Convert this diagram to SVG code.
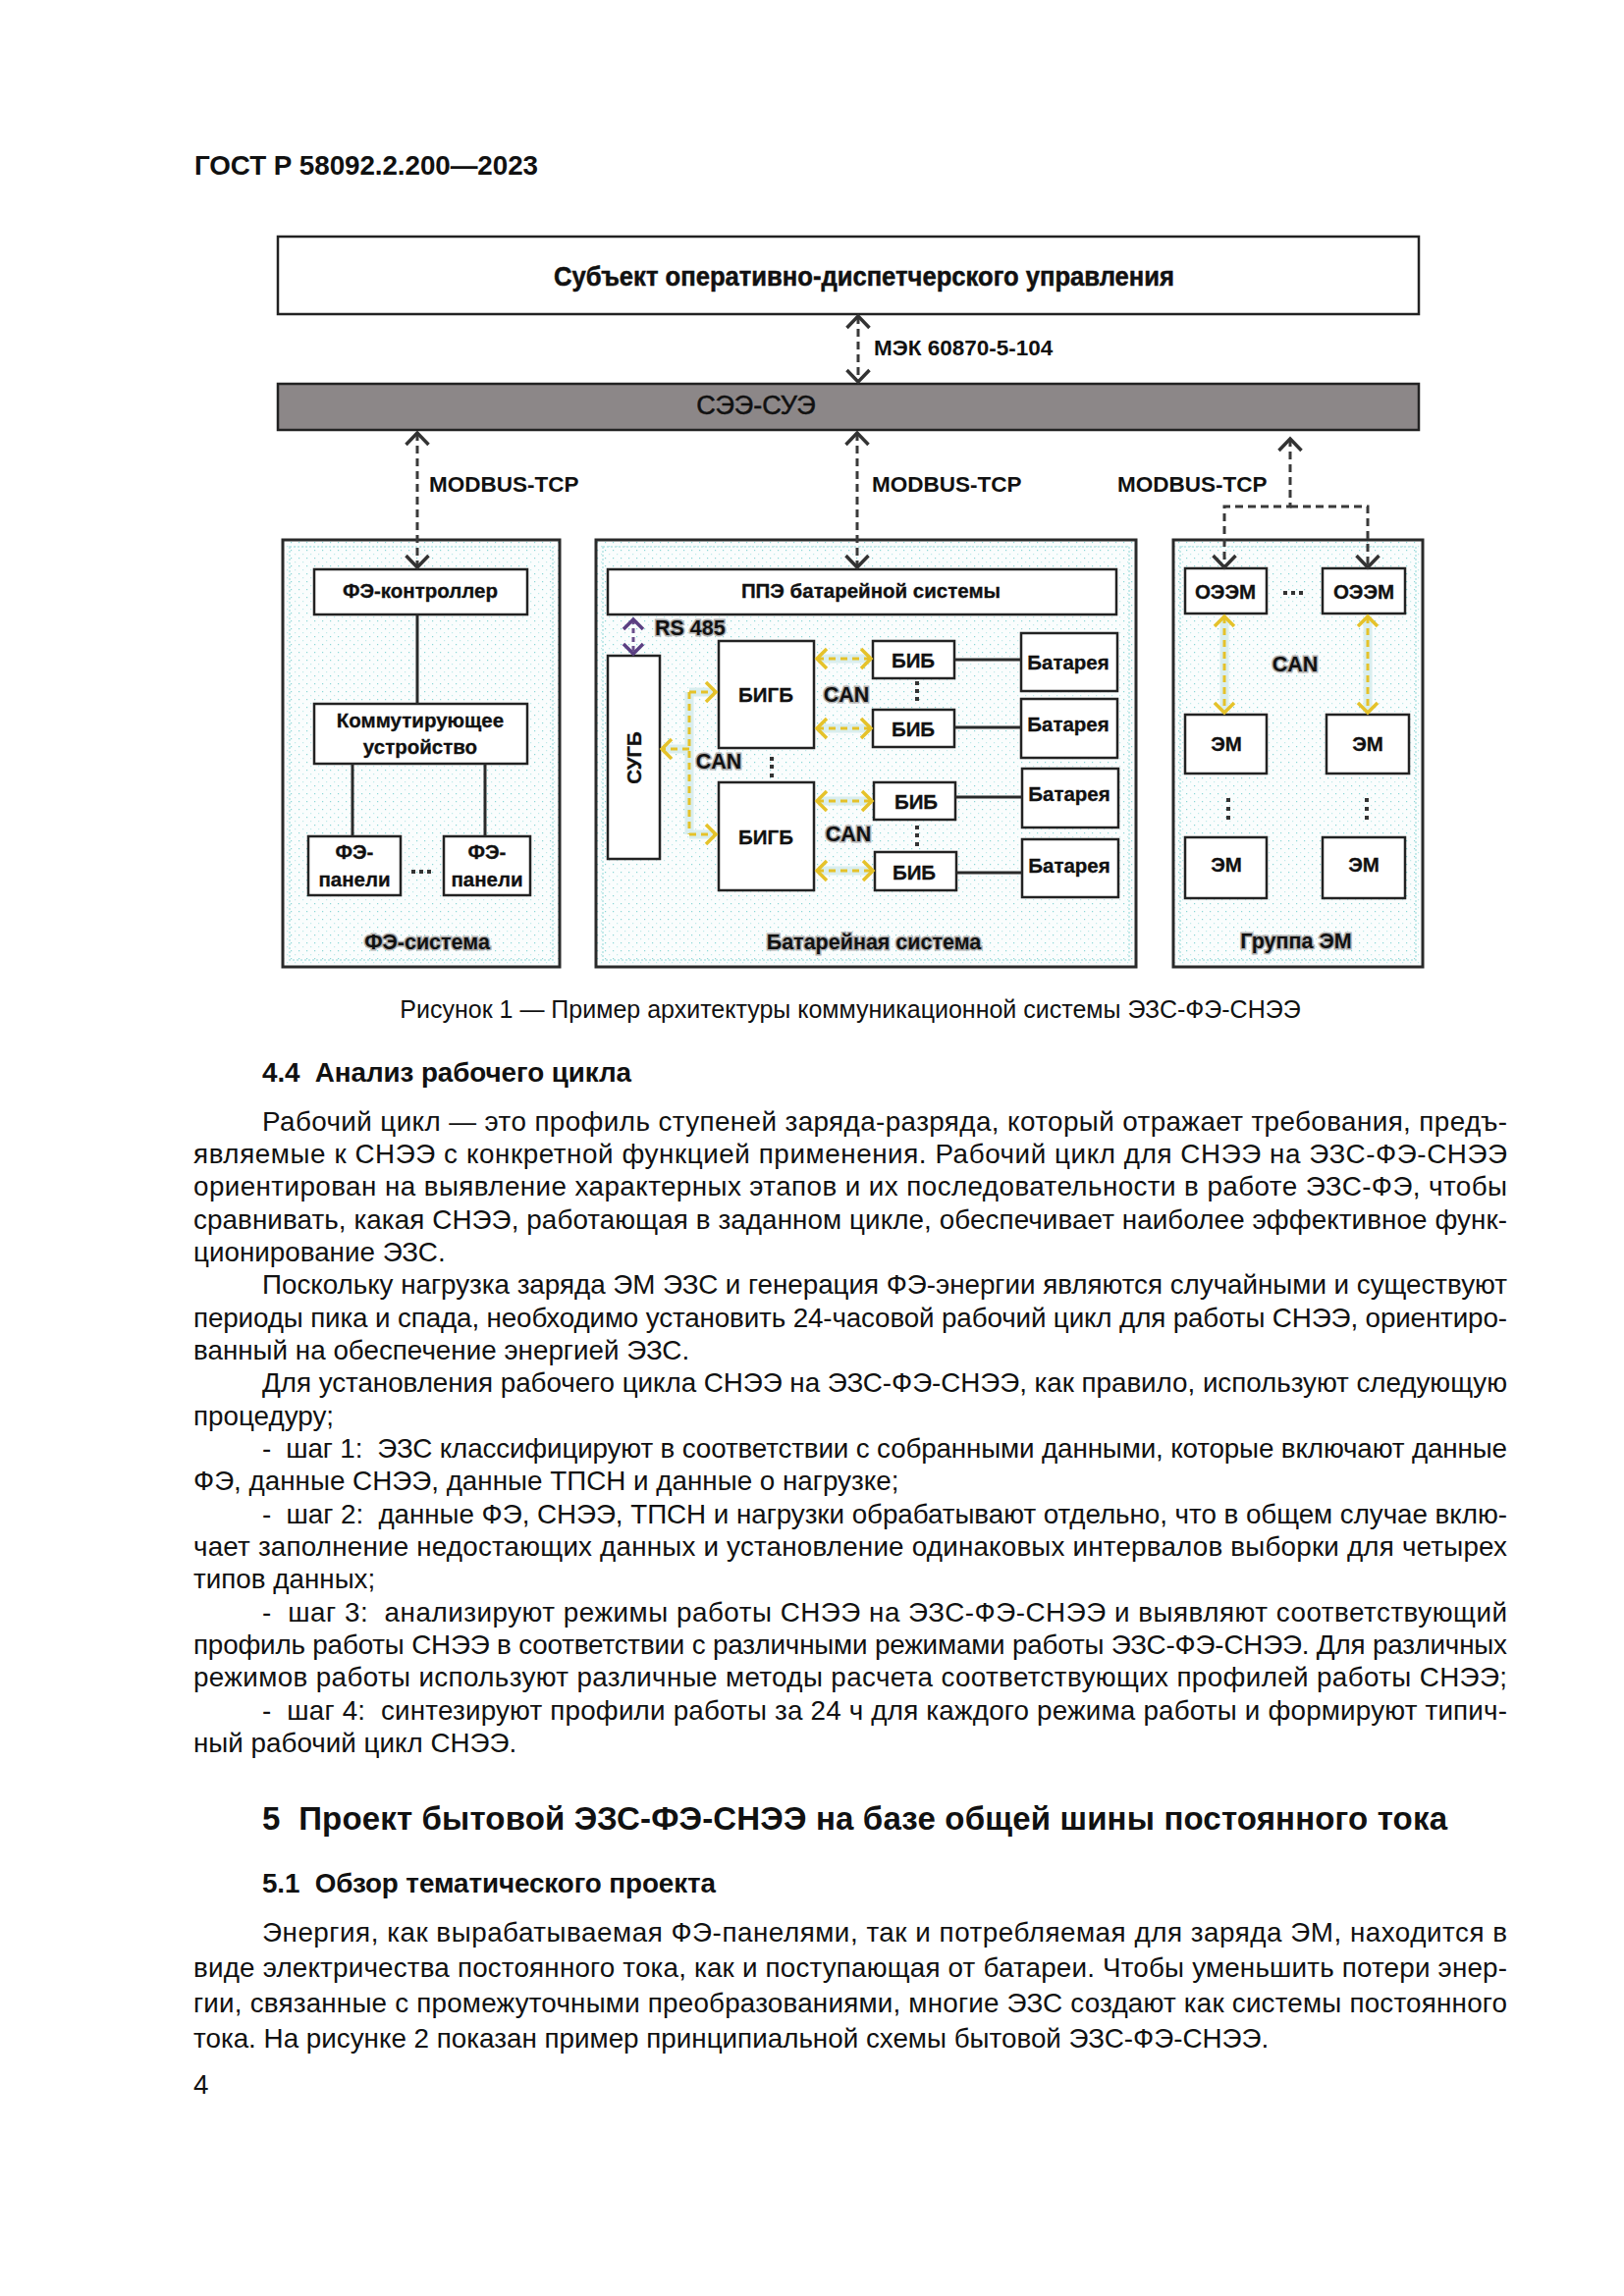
<svg xmlns="http://www.w3.org/2000/svg" width="1654" height="2339" viewBox="0 0 1654 2339">
<defs>
<style>
.page{fill:#fff}
.box{fill:#fff;stroke:#222;stroke-width:2.5}
.grp{fill:url(#halftone);stroke:#2a2a2a;stroke-width:3}
.inner{fill:none;stroke:#b4e3e3;stroke-width:1.5;stroke-dasharray:2 2}
.lbl{font-family:"Liberation Sans",Arial,sans-serif;font-weight:bold;font-size:20.5px;fill:#111;stroke:#111;stroke-width:0.3;text-anchor:middle}
.big{font-family:"Liberation Sans",Arial,sans-serif;font-size:27px;fill:#111;text-anchor:middle;stroke:#111;stroke-width:0.5}
.proto{font-family:"Liberation Sans",Arial,sans-serif;font-weight:bold;font-size:22.5px;fill:#111}
.halo{font-family:"Liberation Sans",Arial,sans-serif;font-weight:bold;font-size:21.5px;fill:#111;stroke:#b0b0b0;stroke-width:3;paint-order:stroke}
.mid{text-anchor:middle}
.dash{fill:none;stroke:#3a3a3a;stroke-width:3;stroke-dasharray:8 5}
.can{fill:none;stroke:#e5c22a;stroke-width:3;stroke-dasharray:7 5}
.canhalo{fill:none;stroke:#d9eeee;stroke-width:9}
.rs{fill:none;stroke:#6a4f8c;stroke-width:3;stroke-dasharray:5 4}
.wire{fill:none;stroke:#2a2a2a;stroke-width:3}
.dot{fill:#333}
.body{font-family:"Liberation Sans",Arial,sans-serif;font-size:27.8px;fill:#111}
.cap{font-family:"Liberation Sans",Arial,sans-serif;font-size:25px;fill:#111;text-anchor:middle}
.hd{font-family:"Liberation Sans",Arial,sans-serif;font-weight:bold;font-size:27.8px;fill:#111}
.h1{font-family:"Liberation Sans",Arial,sans-serif;font-weight:bold;font-size:33px;fill:#111}
</style>
<pattern id="halftone" width="8" height="8" patternUnits="userSpaceOnUse">
<rect width="8" height="8" fill="#fafdfd"/>
<rect x="0" y="0" width="1.2" height="1.2" fill="#8ad6d6"/>
<rect x="4" y="4" width="1.2" height="1.2" fill="#bde9e9"/>
</pattern>
<marker id="chevD" viewBox="-16 -16 20 32" refX="0" refY="0" markerWidth="20" markerHeight="32" markerUnits="userSpaceOnUse" orient="auto-start-reverse">
<path d="M-12,-11.5 L0,0 L-12,11.5" fill="none" stroke="#333" stroke-width="3.5"/>
</marker>
<marker id="chevY" viewBox="-16 -16 20 32" refX="0" refY="0" markerWidth="20" markerHeight="32" markerUnits="userSpaceOnUse" orient="auto-start-reverse">
<path d="M-10,-10 L0,0 L-10,10" fill="none" stroke="#e5c22a" stroke-width="3.5"/>
</marker>
<marker id="chevP" viewBox="-16 -16 20 32" refX="0" refY="0" markerWidth="20" markerHeight="32" markerUnits="userSpaceOnUse" orient="auto-start-reverse">
<path d="M-10,-10 L0,0 L-10,10" fill="none" stroke="#5a3f82" stroke-width="3.5"/>
</marker>
</defs>

<rect class="page" x="0" y="0" width="1654" height="2339"/>

<!-- header -->
<text class="hd" x="198" y="178" textLength="350" lengthAdjust="spacing">ГОСТ Р 58092.2.200—2023</text>

<!-- top -->
<g id="subject">
<rect class="box" x="283" y="241" width="1162" height="79"/>
<text class="big" x="880" y="291" font-weight="bold" stroke-width="0.2" textLength="632" lengthAdjust="spacingAndGlyphs">Субъект оперативно-диспетчерского управления</text>
</g>
<g id="sce-sue">
<rect x="283" y="391" width="1162" height="47" fill="#8c8788" stroke="#222" stroke-width="2.5"/>
<text class="big" x="770" y="422" stroke-width="0.6">СЭЭ-СУЭ</text>
</g>

<!-- PV system -->
<g id="pv-system">
<rect class="grp" x="288" y="550" width="282" height="435"/>
<rect class="inner" x="295" y="557" width="268" height="421"/>
<text class="halo mid" x="435" y="967">ФЭ-система</text>
</g>
<g id="pv-controller">
<rect class="box" x="320" y="580" width="217" height="46"/>
<text class="lbl" x="428" y="609">ФЭ-контроллер</text>
</g>
<g id="switch">
<rect class="box" x="320" y="717" width="217" height="61"/>
<text class="lbl" x="428" y="741">Коммутирующее</text>
<text class="lbl" x="428" y="768">устройство</text>
</g>
<g id="pv-panel-1">
<rect class="box" x="314" y="852" width="94" height="60"/>
<text class="lbl" x="361" y="875">ФЭ-</text>
<text class="lbl" x="361" y="903">панели</text>
</g>
<g id="pv-panel-2">
<rect class="box" x="452" y="852" width="88" height="60"/>
<text class="lbl" x="496" y="875">ФЭ-</text>
<text class="lbl" x="496" y="903">панели</text>
</g>

<!-- battery system -->
<g id="battery-system">
<rect class="grp" x="607" y="550" width="550" height="435"/>
<rect class="inner" x="614" y="557" width="536" height="421"/>
<text class="halo mid" x="890" y="967">Батарейная система</text>
</g>
<g id="ppe">
<rect class="box" x="619" y="580" width="518" height="46"/>
<text class="lbl" x="887" y="609">ППЭ батарейной системы</text>
</g>
<g id="sugb">
<rect class="box" x="619" y="668" width="53" height="207"/>
<text class="lbl" transform="translate(653,772) rotate(-90)" x="0" y="0" font-size="21.5">СУГБ</text>
</g>
<g id="bigb-1">
<rect class="box" x="732" y="653" width="97" height="109"/>
<text class="lbl" x="780" y="715" font-size="21.5">БИГБ</text>
</g>
<g id="bigb-2">
<rect class="box" x="732" y="797" width="97" height="110"/>
<text class="lbl" x="780" y="860" font-size="21.5">БИГБ</text>
</g>
<g id="bib-1">
<rect class="box" x="889" y="653" width="83" height="38"/>
<text class="lbl" x="930" y="680">БИБ</text>
</g>
<g id="bib-2">
<rect class="box" x="889" y="723" width="83" height="38"/>
<text class="lbl" x="930" y="750">БИБ</text>
</g>
<g id="bib-3">
<rect class="box" x="890" y="797" width="83" height="38"/>
<text class="lbl" x="933" y="824">БИБ</text>
</g>
<g id="bib-4">
<rect class="box" x="891" y="868" width="83" height="39"/>
<text class="lbl" x="931" y="896">БИБ</text>
</g>
<g id="battery-1">
<rect class="box" x="1040" y="645" width="98" height="59"/>
<text class="lbl" x="1088" y="682">Батарея</text>
</g>
<g id="battery-2">
<rect class="box" x="1040" y="712" width="98" height="60"/>
<text class="lbl" x="1088" y="745">Батарея</text>
</g>
<g id="battery-3">
<rect class="box" x="1041" y="783" width="98" height="60"/>
<text class="lbl" x="1089" y="816">Батарея</text>
</g>
<g id="battery-4">
<rect class="box" x="1041" y="855" width="98" height="59"/>
<text class="lbl" x="1089" y="889">Батарея</text>
</g>

<!-- EV group -->
<g id="ev-group">
<rect class="grp" x="1195" y="550" width="254" height="435"/>
<rect class="inner" x="1202" y="557" width="240" height="421"/>
<text class="halo mid" x="1320" y="966">Группа ЭМ</text>
</g>
<g id="oeem-1">
<rect class="box" x="1207" y="579" width="83" height="46"/>
<text class="lbl" x="1248" y="610" font-size="21.5">ОЭЭМ</text>
</g>
<g id="oeem-2">
<rect class="box" x="1347" y="579" width="84" height="46"/>
<text class="lbl" x="1389" y="610" font-size="21.5">ОЭЭМ</text>
</g>
<g id="em-1">
<rect class="box" x="1207" y="728" width="83" height="60"/>
<text class="lbl" x="1249" y="765" font-size="21.5">ЭМ</text>
</g>
<g id="em-2">
<rect class="box" x="1351" y="728" width="84" height="60"/>
<text class="lbl" x="1393" y="765" font-size="21.5">ЭМ</text>
</g>
<g id="em-3">
<rect class="box" x="1207" y="853" width="83" height="62"/>
<text class="lbl" x="1249" y="888" font-size="21.5">ЭМ</text>
</g>
<g id="em-4">
<rect class="box" x="1347" y="853" width="84" height="62"/>
<text class="lbl" x="1389" y="888" font-size="21.5">ЭМ</text>
</g>

<!-- connectors -->
<g id="connectors">
<path class="dash" d="M874,322 V389" marker-start="url(#chevD)" marker-end="url(#chevD)"/>
<path class="dash" d="M425,441 V578" marker-start="url(#chevD)" marker-end="url(#chevD)"/>
<path class="dash" d="M873,441 V578" marker-start="url(#chevD)" marker-end="url(#chevD)"/>
<path class="dash" d="M1314,447 V516 H1247 V578" marker-start="url(#chevD)" marker-end="url(#chevD)"/>
<path class="dash" d="M1314,516 H1393 V578" marker-end="url(#chevD)"/>

<path class="wire" d="M425,626 V717"/>
<path class="wire" d="M359,778 V852"/>
<path class="wire" d="M494,778 V852"/>

<path class="rs" d="M645,631 V666" marker-start="url(#chevP)" marker-end="url(#chevP)"/>

<path class="canhalo" d="M702,705 V850 M702,705 H728 M702,850 H728 M702,763 H675"/>
<path class="can" d="M702,705 V850"/>
<path class="can" d="M702,705 H729" marker-end="url(#chevY)"/>
<path class="can" d="M702,850 H729" marker-end="url(#chevY)"/>
<path class="can" d="M702,763 H674" marker-end="url(#chevY)"/>

<path class="canhalo" d="M833,671 H886 M833,742 H886 M833,816 H886 M833,887 H888"/>
<path class="can" d="M832,671 H887" marker-start="url(#chevY)" marker-end="url(#chevY)"/>
<path class="can" d="M832,742 H887" marker-start="url(#chevY)" marker-end="url(#chevY)"/>
<path class="can" d="M832,816 H888" marker-start="url(#chevY)" marker-end="url(#chevY)"/>
<path class="can" d="M832,887 H889" marker-start="url(#chevY)" marker-end="url(#chevY)"/>

<path class="wire" d="M972,672 H1040"/>
<path class="wire" d="M972,741 H1040"/>
<path class="wire" d="M973,812 H1041"/>
<path class="wire" d="M974,889 H1041"/>

<path class="canhalo" d="M1247,630 V724 M1393,630 V724"/>
<path class="can" d="M1247,628 V726" marker-start="url(#chevY)" marker-end="url(#chevY)"/>
<path class="can" d="M1393,628 V726" marker-start="url(#chevY)" marker-end="url(#chevY)"/>
</g>

<!-- connector labels -->
<text class="proto" x="890" y="362">МЭК 60870-5-104</text>
<text class="proto" x="437" y="501">MODBUS-TCP</text>
<text class="proto" x="888" y="501">MODBUS-TCP</text>
<text class="proto" x="1138" y="501">MODBUS-TCP</text>
<text class="halo" x="667" y="647">RS 485</text>
<text class="halo mid" x="862" y="715">CAN</text>
<text class="halo mid" x="732" y="783">CAN</text>
<text class="halo mid" x="864" y="857">CAN</text>
<text class="halo mid" x="1319" y="684">CAN</text>

<!-- ellipsis dots -->
<g id="dots">
<rect class="dot" x="419" y="886" width="4" height="4"/><rect class="dot" x="427" y="886" width="4" height="4"/><rect class="dot" x="435" y="886" width="4" height="4"/>
<rect class="dot" x="1307" y="602" width="4" height="4"/><rect class="dot" x="1315" y="602" width="4" height="4"/><rect class="dot" x="1323" y="602" width="4" height="4"/>
<rect class="dot" x="932" y="694" width="4" height="4"/><rect class="dot" x="932" y="702" width="4" height="4"/><rect class="dot" x="932" y="710" width="4" height="4"/>
<rect class="dot" x="784" y="771" width="4" height="4"/><rect class="dot" x="784" y="779" width="4" height="4"/><rect class="dot" x="784" y="788" width="4" height="4"/>
<rect class="dot" x="932" y="841" width="4" height="4"/><rect class="dot" x="932" y="849" width="4" height="4"/><rect class="dot" x="932" y="858" width="4" height="4"/>
<rect class="dot" x="1249" y="813" width="4" height="4"/><rect class="dot" x="1249" y="822" width="4" height="4"/><rect class="dot" x="1249" y="831" width="4" height="4"/>
<rect class="dot" x="1390" y="813" width="4" height="4"/><rect class="dot" x="1390" y="822" width="4" height="4"/><rect class="dot" x="1390" y="831" width="4" height="4"/>
</g>

<!-- caption and text -->
<text class="cap" x="866" y="1037">Рисунок 1 — Пример архитектуры коммуникационной системы ЭЗС-ФЭ-СНЭЭ</text>
<text class="hd" x="267" y="1102" xml:space="preserve" textLength="376" lengthAdjust="spacing">4.4  Анализ рабочего цикла</text>

<text class="body" x="267" y="1152" textLength="1268" lengthAdjust="spacing">Рабочий цикл — это профиль ступеней заряда-разряда, который отражает требования, предъ-</text>
<text class="body" x="197" y="1185" textLength="1338" lengthAdjust="spacing">являемые к СНЭЭ с конкретной функцией применения. Рабочий цикл для СНЭЭ на ЭЗС-ФЭ-СНЭЭ</text>
<text class="body" x="197" y="1218" textLength="1338" lengthAdjust="spacing">ориентирован на выявление характерных этапов и их последовательности в работе ЭЗС-ФЭ, чтобы</text>
<text class="body" x="197" y="1252" textLength="1338" lengthAdjust="spacing">сравнивать, какая СНЭЭ, работающая в заданном цикле, обеспечивает наиболее эффективное функ-</text>
<text class="body" x="197" y="1285">ционирование ЭЗС.</text>
<text class="body" x="267" y="1318" textLength="1268" lengthAdjust="spacing">Поскольку нагрузка заряда ЭМ ЭЗС и генерация ФЭ-энергии являются случайными и существуют</text>
<text class="body" x="197" y="1352" textLength="1338" lengthAdjust="spacing">периоды пика и спада, необходимо установить 24-часовой рабочий цикл для работы СНЭЭ, ориентиро-</text>
<text class="body" x="197" y="1385">ванный на обеспечение энергией ЭЗС.</text>
<text class="body" x="267" y="1418" textLength="1268" lengthAdjust="spacing">Для установления рабочего цикла СНЭЭ на ЭЗС-ФЭ-СНЭЭ, как правило, используют следующую</text>
<text class="body" x="197" y="1452">процедуру;</text>
<text class="body" x="267" y="1485" xml:space="preserve" textLength="1268" lengthAdjust="spacing">-  шаг 1:  ЭЗС классифицируют в соответствии с собранными данными, которые включают данные</text>
<text class="body" x="197" y="1518">ФЭ, данные СНЭЭ, данные ТПСН и данные о нагрузке;</text>
<text class="body" x="267" y="1552" xml:space="preserve" textLength="1268" lengthAdjust="spacing">-  шаг 2:  данные ФЭ, СНЭЭ, ТПСН и нагрузки обрабатывают отдельно, что в общем случае вклю-</text>
<text class="body" x="197" y="1585" textLength="1338" lengthAdjust="spacing">чает заполнение недостающих данных и установление одинаковых интервалов выборки для четырех</text>
<text class="body" x="197" y="1618">типов данных;</text>
<text class="body" x="267" y="1652" xml:space="preserve" textLength="1268" lengthAdjust="spacing">-  шаг 3:  анализируют режимы работы СНЭЭ на ЭЗС-ФЭ-СНЭЭ и выявляют соответствующий</text>
<text class="body" x="197" y="1685" textLength="1338" lengthAdjust="spacing">профиль работы СНЭЭ в соответствии с различными режимами работы ЭЗС-ФЭ-СНЭЭ. Для различных</text>
<text class="body" x="197" y="1718" textLength="1338" lengthAdjust="spacing">режимов работы используют различные методы расчета соответствующих профилей работы СНЭЭ;</text>
<text class="body" x="267" y="1752" xml:space="preserve" textLength="1268" lengthAdjust="spacing">-  шаг 4:  синтезируют профили работы за 24 ч для каждого режима работы и формируют типич-</text>
<text class="body" x="197" y="1785">ный рабочий цикл СНЭЭ.</text>

<text class="h1" x="267" y="1864" xml:space="preserve" textLength="1207" lengthAdjust="spacing">5  Проект бытовой ЭЗС-ФЭ-СНЭЭ на базе общей шины постоянного тока</text>
<text class="hd" x="267" y="1928" xml:space="preserve" textLength="462" lengthAdjust="spacing">5.1  Обзор тематического проекта</text>

<text class="body" x="267" y="1978" textLength="1268" lengthAdjust="spacing">Энергия, как вырабатываемая ФЭ-панелями, так и потребляемая для заряда ЭМ, находится в</text>
<text class="body" x="197" y="2014" textLength="1338" lengthAdjust="spacing">виде электричества постоянного тока, как и поступающая от батареи. Чтобы уменьшить потери энер-</text>
<text class="body" x="197" y="2050" textLength="1338" lengthAdjust="spacing">гии, связанные с промежуточными преобразованиями, многие ЭЗС создают как системы постоянного</text>
<text class="body" x="197" y="2086">тока. На рисунке 2 показан пример принципиальной схемы бытовой ЭЗС-ФЭ-СНЭЭ.</text>

<text class="body" x="197" y="2133">4</text>
</svg>
